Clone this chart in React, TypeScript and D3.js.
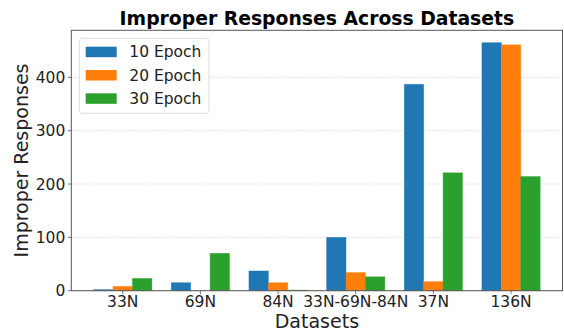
import React from "react";
import * as d3 from "d3";

const categories = ["33N", "69N", "84N", "33N-69N-84N", "37N", "136N"];
const seriesNames = ["10 Epoch", "20 Epoch", "30 Epoch"];
const epoch10 = [2, 15, 37, 100, 387, 465];
const epoch20 = [8, 0, 15, 34, 17, 461];
const epoch30 = [23, 70, 1, 26, 221, 214];
const yTicks = [0, 100, 200, 300, 400];
const colors = ["#1f77b4", "#ff7f0e", "#2ca02c"];

const W = 564;
const H = 333;
const M = { left: 71.3, right: 562.5, top: 30.3, bottom: 290.7 };
const FONT = "DejaVu Sans, sans-serif";

export default function App() {
  const series = [epoch10, epoch20, epoch30];
  const barW = 0.25;
  const maxV = d3.max(series.flat()) as number;
  const lo = -1.5 * barW;
  const hi = categories.length - 1 + 1.5 * barW;
  const pad = (hi - lo) * 0.05;
  const x = d3.scaleLinear().domain([lo - pad, hi + pad]).range([M.left, M.right]);
  const y = d3.scaleLinear().domain([0, maxV * 1.05]).range([M.bottom, M.top]);
  const bw = x(barW) - x(0);

  return (
    <svg width={W} height={H} style={{ position: "absolute", left: 0, top: 0, background: "#fff" }} fontFamily={FONT}>
      {/* grid */}
      {yTicks.map((t) => (
        <line key={"g" + t} x1={M.left} x2={M.right} y1={y(t)} y2={y(t)} stroke="#d8d8d8" strokeWidth={0.8} strokeDasharray="2,1.5" />
      ))}
      {/* bars */}
      {series.map((vals, si) =>
        vals.map((v, ci) => {
          const cx = x(ci + (si - 1) * barW);
          return (
            <rect
              key={si + "-" + ci}
              x={cx - bw / 2}
              y={y(v)}
              width={bw}
              height={y(0) - y(v)}
              fill={colors[si]}
              stroke={colors[si]}
              strokeOpacity={0.5}
              strokeWidth={0.8}
            />
          );
        })
      )}
      {/* frame */}
      <rect x={M.left} y={M.top} width={M.right - M.left} height={M.bottom - M.top} fill="none" stroke="#555" strokeWidth={1} />
      {/* y ticks */}
      {yTicks.map((t) => (
        <g key={"y" + t}>
          <line x1={M.left - 3.5} x2={M.left} y1={y(t)} y2={y(t)} stroke="#555" strokeWidth={0.8} />
          <text x={M.left - 6} y={y(t)} dy="0.36em" textAnchor="end" fontSize={15.5} fill="#222">
            {t}
          </text>
        </g>
      ))}
      {/* x ticks */}
      {categories.map((c, i) => (
        <g key={"x" + c}>
          <line x1={x(i)} x2={x(i)} y1={M.bottom} y2={M.bottom + 3.5} stroke="#555" strokeWidth={0.8} />
          <text x={x(i)} y={307.3} textAnchor="middle" fontSize={15.5} fill="#222">
            {c}
          </text>
        </g>
      ))}
      {/* axis labels */}
      <text x={(M.left + M.right) / 2} y={328} textAnchor="middle" fontSize={19} fill="#222">
        Datasets
      </text>
      <text transform={`translate(28,${(M.top + M.bottom) / 2}) rotate(-90)`} textAnchor="middle" fontSize={19} fill="#222">
        Improper Responses
      </text>
      {/* title */}
      <text x={(M.left + M.right) / 2} y={24.5} textAnchor="middle" fontSize={18.8} fontWeight="bold" fill="#000">
        Improper Responses Across Datasets
      </text>
      {/* legend */}
      <rect x={79.3} y={38.3} width={129.7} height={75} rx={3} fill="#fff" fillOpacity={0.85} stroke="#ddd" strokeWidth={1} />
      {seriesNames.map((s, i) => {
        const cy = 51.7 + i * 23.3;
        return (
          <g key={s}>
            <rect x={85.7} y={cy - 5} width={31} height={10.5} fill={colors[i]} />
            <text x={129.3} y={cy} dy="0.36em" fontSize={15.5} fill="#222">
              {s}
            </text>
          </g>
        );
      })}
    </svg>
  );
}
